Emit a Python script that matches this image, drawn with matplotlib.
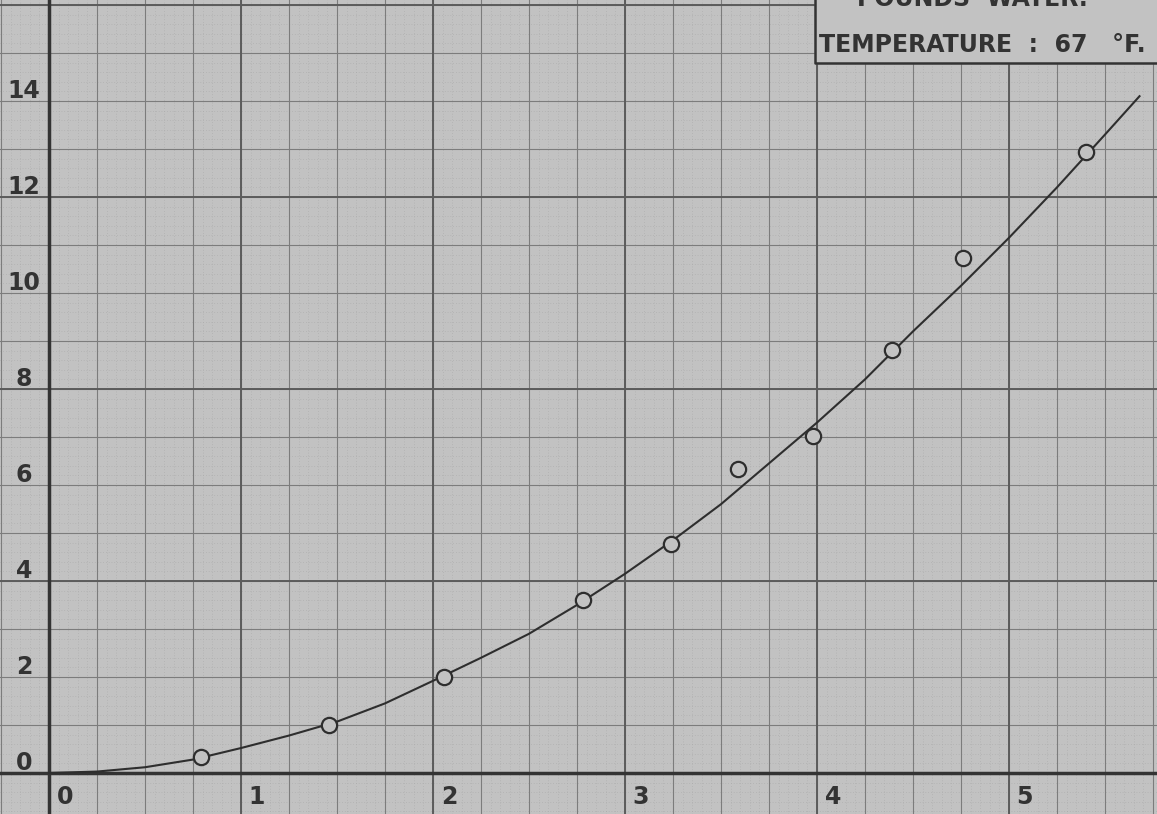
import numpy as np
import matplotlib.pyplot as plt

# measured points (circles)
x_pts = [0.79, 1.46, 2.06, 2.78, 3.24, 3.59, 3.98, 4.39, 4.76, 5.40]
y_pts = [0.33, 1.00, 2.00, 3.60, 4.77, 6.33, 7.02, 8.81, 10.73, 12.94]

# hand drawn curve
x_curve = [0.0, 0.25, 0.5, 0.75, 1.0, 1.25, 1.5, 1.75, 2.0, 2.25, 2.5, 2.75,
           3.0, 3.25, 3.5, 3.75, 4.0, 4.25, 4.5, 4.75, 5.0, 5.25, 5.5, 5.68]
y_curve = [0.0, 0.03, 0.12, 0.28, 0.52, 0.78, 1.07, 1.45, 1.92, 2.40, 2.90, 3.50,
           4.15, 4.85, 5.60, 6.45, 7.30, 8.20, 9.20, 10.15, 11.15, 12.20, 13.30, 14.10]

x_labels = [0, 1, 2, 3, 4, 5]
y_labels = [0, 2, 4, 6, 8, 10, 12, 14]

paper = '#c2c2c2'
ink = '#333333'

fig = plt.figure(figsize=(11.57, 8.14), dpi=100)
fig.patch.set_facecolor(paper)
ax = fig.add_axes([0, 0, 1, 1])
ax.set_facecolor(paper)
ax.set_xlim(-0.255, 5.771)
ax.set_ylim(-0.854, 16.104)
ax.axis('off')

# graph paper: fine dotted, medium and heavy rules
for v in np.arange(-0.25, 5.8, 0.05):
    ax.axvline(v, color='#a8a8a8', lw=0.5, ls=(0, (1, 3)), zorder=1)
for v in np.arange(-0.8, 16.2, 0.2):
    ax.axhline(v, color='#a8a8a8', lw=0.5, ls=(0, (1, 3)), zorder=1)
for v in np.arange(-0.25, 5.8, 0.25):
    ax.axvline(v, color='#7c7c7c', lw=0.8, zorder=2)
for v in np.arange(-0.0, 16.2, 1.0):
    ax.axhline(v, color='#7c7c7c', lw=0.8, zorder=2)
for v in range(1, 6):
    ax.axvline(v, color='#5c5c5c', lw=1.4, zorder=2)
for v in [4, 8, 12, 16]:
    ax.axhline(v, color='#5c5c5c', lw=1.4, zorder=2)

# axes
ax.axvline(0, color='#333333', lw=2.5, zorder=3)
ax.axhline(0, color='#333333', lw=2.5, zorder=3)

# tick numbers
for v in x_labels:
    ax.text(v + 0.04, -0.5, str(v), fontsize=17, color=ink, ha='left', va='center',
            fontweight='bold', zorder=5)
for v in y_labels:
    ax.text(-0.13, v + 0.2, str(v), fontsize=17, color=ink, ha='center', va='center',
            fontweight='bold', zorder=5)

# curve and points
ax.plot(x_curve, y_curve, color='#2e2e2e', lw=1.5, zorder=4)
ax.plot(x_pts, y_pts, 'o', ms=11, mfc=paper, mec='#2e2e2e', mew=1.6, zorder=5)

# title box in the corner (cut off by the top edge, as on the sheet)
ax.fill_between([3.99, 5.8], 14.8, 16.2, color=paper, zorder=3.5)
ax.plot([3.99, 3.99, 5.8], [16.2, 14.8, 14.8], color='#333333', lw=1.8, zorder=4)
ax.text(4.21, 16.12, 'POUNDS  WATER.', fontsize=17, color=ink, ha='left', va='center',
        fontweight='bold', zorder=5)
ax.text(4.01, 15.17, 'TEMPERATURE  :  67   °F.', fontsize=17, color=ink, ha='left',
        va='center', fontweight='bold', zorder=5)

fig.savefig('out.png', dpi=100, facecolor=paper)
